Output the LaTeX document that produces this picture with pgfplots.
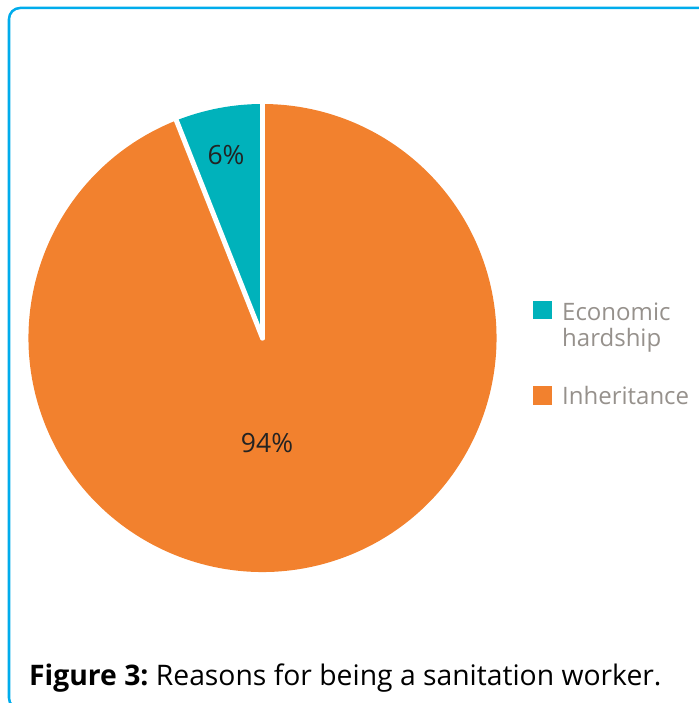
\documentclass[border=0pt]{standalone}
\usepackage{pgfplots}
\pgfplotsset{compat=1.18}
\usepackage{fontspec}
\setmainfont{Open Sans}
\definecolor{tealc}{RGB}{0,178,187}
\definecolor{orangec}{RGB}{242,129,46}
\definecolor{framec}{RGB}{0,172,236}
\definecolor{legtext}{RGB}{150,145,140}
\definecolor{labtext}{RGB}{35,35,35}

\begin{document}
\begin{tikzpicture}
\useasboundingbox (0,0) rectangle (699bp,703bp);
\clip (0,0) rectangle (699bp,703bp);
\begin{axis}[
    at={(0,0)}, anchor=south west,
    x=1bp, y=1bp,
    xmin=0, xmax=699, ymin=0, ymax=703,
    hide axis, scale only axis,
    clip=false,
]
% frame
\draw[framec, line width=2.5bp, rounded corners=11bp]
    (axis cs:9,-6) rectangle (axis cs:740,695);

% slices: share (percent), colour; start at 90 deg, counterclockwise
\def\cx{262.5}\def\cy{365}\def\rr{234}
\def\angA{90}
\foreach \val/\col in {6/tealc, 94/orangec} {
    \pgfmathsetmacro{\angB}{\angA+3.6*\val}
    \edef\temp{\noexpand\fill[\col] (axis cs:\cx,\cy) -- ++(\angA:\rr bp)
        arc[start angle=\angA, end angle=\angB, radius=\rr bp] -- cycle;}
    \temp
    \global\let\angA\angB
}
% white separators
\def\angA{90}
\foreach \val in {6, 94} {
    \edef\temp{\noexpand\draw[white, line width=5bp, line cap=round]
        (axis cs:\cx,\cy) -- ++(\angA:\rr bp+2bp);}
    \temp
    \pgfmathsetmacro{\angB}{\angA+3.6*\val}
    \global\let\angA\angB
}

\node[font=\fontsize{26.5bp}{30bp}\selectfont, text=labtext] at (axis cs:226,548) {6\%};
\node[font=\fontsize{26.5bp}{30bp}\selectfont, text=labtext] at (axis cs:267,260) {94\%};

% legend
\fill[tealc] (axis cs:533,384) rectangle (axis cs:552,402);
\fill[orangec] (axis cs:533,298) rectangle (axis cs:552,317);
\begin{scope}[every node/.style={anchor=base west, inner sep=0pt, text=legtext,
    font=\fontsize{24bp}{28bp}\selectfont}]
\node at (axis cs:562,383) {Economic};
\node at (axis cs:562,357) {hardship};
\node at (axis cs:562,299) {Inheritance};
\end{scope}

\node[anchor=base west, font=\fontsize{28.3bp}{33bp}\selectfont, text=black, inner sep=0pt]
    at (axis cs:29,18) {\frenchspacing\textbf{Figure 3:} Reasons for being a sanitation worker.};
\end{axis}
\end{tikzpicture}
\end{document}
